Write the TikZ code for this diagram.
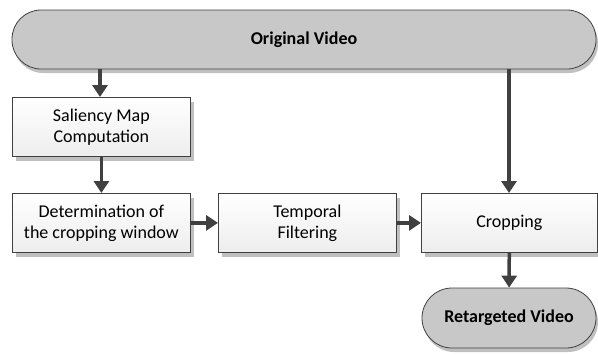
\documentclass[tikz,border=0pt]{standalone}
\usepackage{fontspec}
\setmainfont{Carlito}
\usetikzlibrary{arrows.meta,shadows}
\definecolor{linec}{HTML}{404040}
\definecolor{pillc}{HTML}{C8C8C8}
\definecolor{shadc}{HTML}{C0C0C0}
\tikzset{
  x=1pt, y=-1pt,
  procbox/.style={draw=linec, line width=0.8pt, top color=white, bottom color=black!7,
    minimum width=178pt, minimum height=59pt, inner sep=0pt, align=center,
    font=\fontsize{18}{21}\selectfont,
    drop shadow={shadow xshift=4pt, shadow yshift=-5pt, fill=shadc, opacity=1}},
  pill/.style={draw=linec, line width=0.8pt, fill=pillc, rounded corners=29pt,
    inner sep=0pt, align=center, font=\bfseries\fontsize{18}{21}\selectfont,
    drop shadow={shadow xshift=2pt, shadow yshift=-4pt, fill=shadc, opacity=1}},
  flow/.style={draw=linec, line width=3.5pt, -{Triangle[width=15pt,length=12pt]}}
}
\begin{document}
\begin{tikzpicture}
\useasboundingbox (0,0) rectangle (598,354);
\node[pill, minimum width=584pt, minimum height=59pt] (orig) at (304,39.5) {Original Video};
\node[procbox, anchor=north west] (sal) at (12,97) {Saliency Map\\Computation};
\node[procbox, anchor=north west] (det) at (12,193) {Determination of\\the cropping window};
\node[procbox, anchor=north west] (temp) at (218,193) {Temporal\\Filtering};
\node[procbox, anchor=north west, minimum width=176pt] (crop) at (421,193) {Cropping};
\node[pill, minimum width=174pt, minimum height=60pt, rounded corners=30pt] (ret) at (509,318) {Retargeted Video};
\draw[flow] (orig.south -| 100,0) -- (sal.north -| 100,0);
\draw[flow] (sal) -- (det);
\draw[flow] (det) -- (temp);
\draw[flow] (temp) -- (crop);
\draw[flow] (orig.south -| 509,0) -- (crop.north -| 509,0);
\draw[flow] (crop) -- (ret);
\end{tikzpicture}
\end{document}
